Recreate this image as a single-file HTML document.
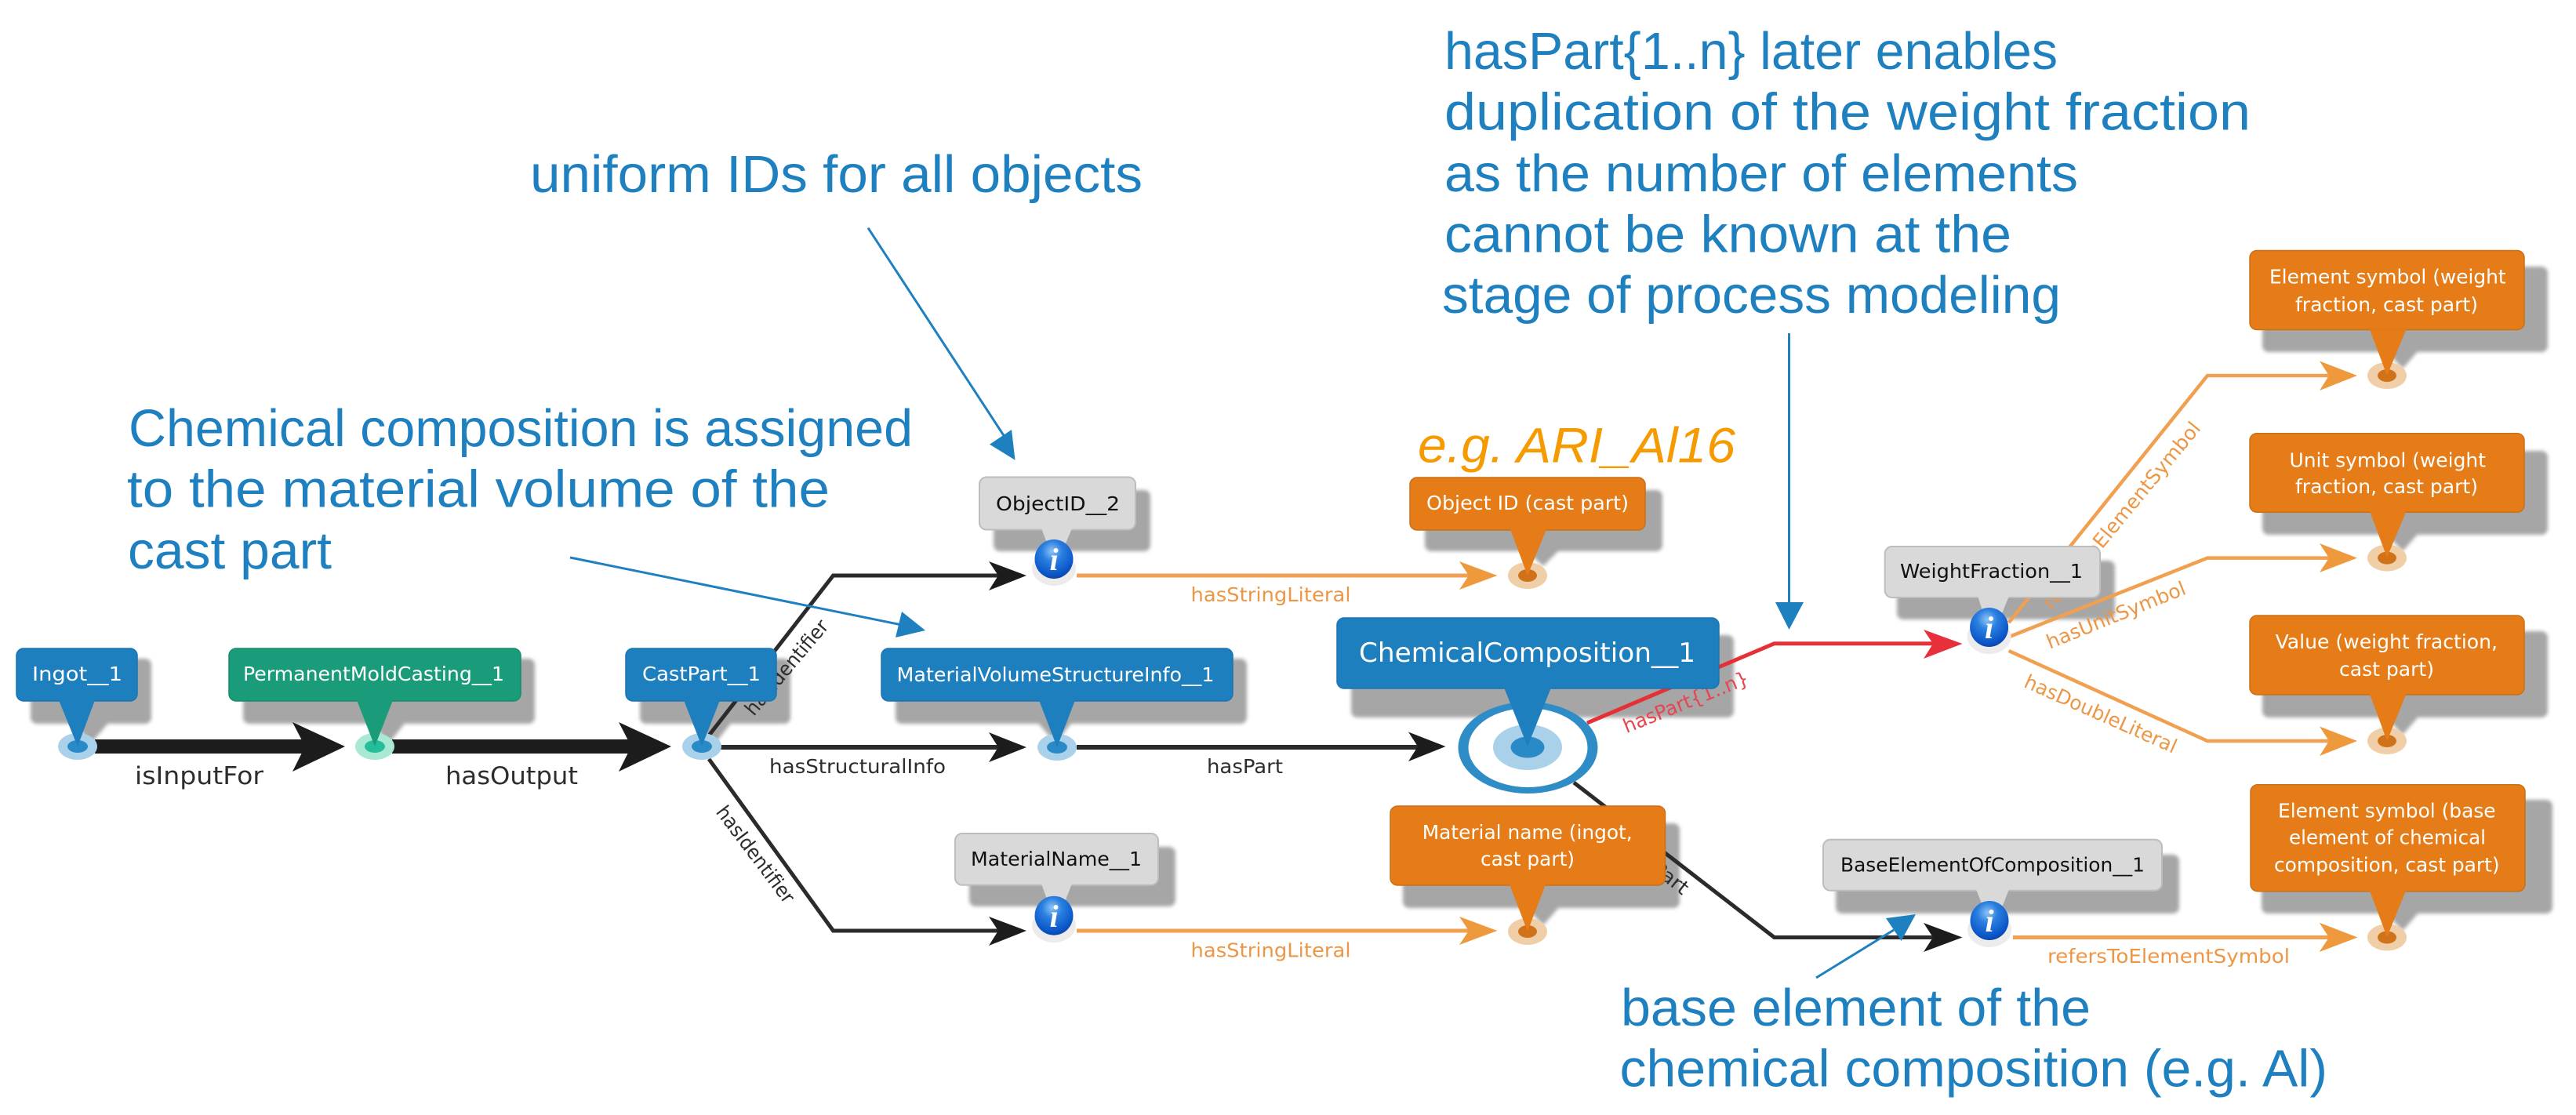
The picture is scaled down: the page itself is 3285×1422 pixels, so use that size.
<!DOCTYPE html>
<html>
<head>
<meta charset="utf-8">
<style>
html,body{margin:0;padding:0;background:#fff;width:3285px;height:1422px;overflow:hidden}
svg{display:block}
.big{font-family:"Liberation Sans",sans-serif;font-size:67px;fill:#1f80c0}
.s{font-family:"DejaVu Sans",sans-serif;font-size:25px}
.w{fill:#fff}
.k{fill:#111}
.d{fill:#2d2d2d}
.o{fill:#ec9746}
.r{fill:#e64650}
</style>
</head>
<body>
<svg width="3285" height="1422" viewBox="0 0 3285 1422" xmlns="http://www.w3.org/2000/svg">
<defs>
<filter id="b" x="-5%" y="-5%" width="110%" height="110%"><feGaussianBlur stdDeviation="2.5"/></filter>
<radialGradient id="info" cx="45%" cy="30%" r="75%">
<stop offset="0" stop-color="#8fc4f5"/><stop offset=".35" stop-color="#2a7fe0"/><stop offset=".8" stop-color="#0b55c8"/><stop offset="1" stop-color="#0a3f9c"/>
</radialGradient>
</defs>

<!-- shadows -->
<g fill="#a6a6a6" filter="url(#b)">
<rect x="39" y="840" width="154" height="83" rx="8"/><polygon points="93,920 140,920 116,948"/>
<rect x="310" y="840" width="372" height="83" rx="8"/><polygon points="472,920 518,920 496,948"/>
<rect x="816" y="840" width="192" height="83" rx="8"/><polygon points="888,920 934,920 912,948"/>
<rect x="1267" y="625" width="200" height="78" rx="8"/>
<rect x="1142" y="840" width="448" height="83" rx="8"/><polygon points="1322,920 1368,920 1346,948"/>
<rect x="1236" y="1080" width="263" height="76" rx="8"/>
<rect x="1817" y="625" width="303" height="78" rx="8"/><polygon points="1944,700 1990,700 1968,722"/>
<rect x="1723" y="810" width="488" height="105" rx="8"/>
<rect x="1789" y="1050" width="353" height="108" rx="8"/><polygon points="1944,1155 1990,1155 1968,1180"/>
<rect x="2419" y="715" width="278" height="75" rx="8"/>
<rect x="2341" y="1090" width="438" height="75" rx="8"/>
<rect x="2885" y="340" width="364" height="109" rx="8"/><polygon points="3040,445 3086,445 3064,470"/>
<rect x="2885" y="575" width="364" height="107" rx="8"/><polygon points="3040,678 3086,678 3064,703"/>
<rect x="2885" y="805" width="364" height="110" rx="8"/><polygon points="3040,912 3086,912 3064,937"/>
<rect x="2884" y="1020" width="371" height="145" rx="8"/><polygon points="3040,1162 3086,1162 3064,1187"/>
</g>

<!-- thick arrows -->
<g fill="#1c1c1c">
<rect x="121" y="943" width="270" height="18"/>
<polygon points="440,952 373,921 389,952 373,984"/>
<rect x="500" y="943" width="307" height="18"/>
<polygon points="856,952 789,921 805,952 789,984"/>
</g>

<!-- black connectors -->
<g fill="none" stroke="#2b2b2b">
<polyline points="904,938 1062.5,734 1275,734" stroke-width="5"/>
<line x1="919" y1="953" x2="1275" y2="953" stroke-width="6"/>
<polyline points="904,968 1062.5,1187 1275,1187" stroke-width="5"/>
<line x1="1373" y1="953" x2="1808" y2="953" stroke-width="6"/>
<polyline points="2007,998 2262.6,1195.5 2467,1195.5" stroke-width="5"/>
</g>
<g fill="#1c1c1c">
<polygon points="1309,734 1261,716 1273,734 1261,753"/>
<polygon points="1309,953 1261,934 1273,953 1261,972"/>
<polygon points="1309,1187 1261,1169 1273,1187 1261,1206"/>
<polygon points="1843.5,952 1796,933.5 1808,952 1796,971"/>
<polygon points="2502.5,1195.5 2453,1177 2465,1195.5 2453,1214"/>
</g>

<!-- red connector -->
<polyline points="2024,922 2262.6,820.7 2465,820.7" fill="none" stroke="#e63037" stroke-width="5"/>
<polygon points="2502.5,821 2453,803 2465,821 2453,840" fill="#e8303a"/>

<!-- orange connectors -->
<g fill="none" stroke="#f0a050">
<line x1="1373" y1="734" x2="1875" y2="734" stroke-width="5"/>
<line x1="1373" y1="1187" x2="1875" y2="1187" stroke-width="5"/>
<polyline points="2561.7,794 2815,479 2972,479" stroke-width="4.5"/>
<polyline points="2561,812.6 2815,711.6 2972,711.6" stroke-width="4.5"/>
<polyline points="2561.7,830 2815,945 2972,945" stroke-width="4.5"/>
<line x1="2567" y1="1195.5" x2="2970" y2="1195.5" stroke-width="5"/>
</g>
<g fill="#ee9a3c">
<polygon points="1909.5,734 1861,716 1873,734 1861,752"/>
<polygon points="1909.5,1187 1861,1169 1873,1187 1861,1205"/>
<polygon points="3006,479 2958,460.5 2970,479 2958,498"/>
<polygon points="3006,711.6 2958,693 2970,711.6 2958,730"/>
<polygon points="3006,945 2958,926.5 2970,945 2958,964"/>
<polygon points="3006.6,1195.5 2957.7,1176.7 2970,1195.5 2957.7,1214"/>
</g>

<!-- edge labels -->
<text class="s d" x="172" y="1000" style="font-size:31px" textLength="164" lengthAdjust="spacingAndGlyphs">isInputFor</text>
<text class="s d" x="568" y="1000" style="font-size:31px" textLength="169" lengthAdjust="spacingAndGlyphs">hasOutput</text>
<text class="s d" x="981" y="986" textLength="225" lengthAdjust="spacingAndGlyphs">hasStructuralInfo</text>
<text class="s d" x="1539" y="986" textLength="97" lengthAdjust="spacingAndGlyphs">hasPart</text>
<text class="s o" x="1518.5" y="767" textLength="204" lengthAdjust="spacingAndGlyphs">hasStringLiteral</text>
<text class="s o" x="1518.5" y="1220.5" textLength="204" lengthAdjust="spacingAndGlyphs">hasStringLiteral</text>
<text class="s o" x="2611" y="1228" textLength="309" lengthAdjust="spacingAndGlyphs">refersToElementSymbol</text>
<text class="s d" transform="translate(1003.5,851.5) rotate(-50)" text-anchor="middle" y="8" textLength="150" lengthAdjust="spacingAndGlyphs">hasIdentifier</text>
<text class="s d" transform="translate(963,1090) rotate(53)" text-anchor="middle" y="8" textLength="148" lengthAdjust="spacingAndGlyphs">hasIdentifier</text>
<text class="s r" transform="translate(2150,896) rotate(-22)" text-anchor="middle" y="8" textLength="170" lengthAdjust="spacingAndGlyphs">hasPart{1..n}</text>
<text class="s d" transform="translate(2112,1106) rotate(38)" text-anchor="middle" y="8" textLength="97" lengthAdjust="spacingAndGlyphs">hasPart</text>
<text class="s o" transform="translate(2706,657.5) rotate(-50.5)" text-anchor="middle" y="8" textLength="300" lengthAdjust="spacingAndGlyphs">refersToElementSymbol</text>
<text class="s o" transform="translate(2698.6,785) rotate(-22)" text-anchor="middle" y="8" textLength="189" lengthAdjust="spacingAndGlyphs">hasUnitSymbol</text>
<text class="s o" transform="translate(2678.7,911) rotate(24)" text-anchor="middle" y="8" textLength="210" lengthAdjust="spacingAndGlyphs">hasDoubleLiteral</text>

<!-- nodes -->
<g>
<ellipse cx="99" cy="952" rx="25" ry="17" fill="#a9d1ea"/><ellipse cx="99" cy="952" rx="13" ry="8" fill="#2a8ac8"/>
<ellipse cx="478" cy="952" rx="25" ry="17" fill="#a8e8d4"/><ellipse cx="478" cy="952" rx="13" ry="8" fill="#24bf99"/>
<ellipse cx="895" cy="952" rx="25" ry="17" fill="#a9d1ea"/><ellipse cx="895" cy="952" rx="13" ry="8" fill="#2a8ac8"/>
<ellipse cx="1348" cy="953" rx="25" ry="17" fill="#a9d1ea"/><ellipse cx="1348" cy="953" rx="13" ry="8" fill="#2a8ac8"/>
<ellipse cx="1948" cy="734" rx="25" ry="17" fill="#f0cfa8"/><ellipse cx="1948" cy="734" rx="12" ry="8" fill="#d0721a"/>
<ellipse cx="1948" cy="1188" rx="25" ry="17" fill="#f0cfa8"/><ellipse cx="1948" cy="1188" rx="12" ry="8" fill="#d0721a"/>
<ellipse cx="3044" cy="479" rx="25" ry="17" fill="#f0cfa8"/><ellipse cx="3044" cy="479" rx="12" ry="8" fill="#d0721a"/>
<ellipse cx="3044" cy="711.6" rx="25" ry="17" fill="#f0cfa8"/><ellipse cx="3044" cy="711.6" rx="12" ry="8" fill="#d0721a"/>
<ellipse cx="3044" cy="945" rx="25" ry="17" fill="#f0cfa8"/><ellipse cx="3044" cy="945" rx="12" ry="8" fill="#d0721a"/>
<ellipse cx="3044" cy="1195.5" rx="25" ry="17" fill="#f0cfa8"/><ellipse cx="3044" cy="1195.5" rx="12" ry="8" fill="#d0721a"/>
<!-- big node -->
<ellipse cx="1948.5" cy="953.5" rx="89" ry="58.5" fill="#2e8cc6"/>
<ellipse cx="1948.5" cy="953.5" rx="76" ry="50.5" fill="#fff"/>
<ellipse cx="1948" cy="953" rx="44" ry="29" fill="#a9d1ea"/>
<ellipse cx="1948" cy="953" rx="21.5" ry="13.5" fill="#2a8ac8"/>
</g>

<!-- callouts -->
<g fill="#1e7fbf" stroke="#1b74b0" stroke-width="1.5">
<rect x="21" y="827" width="154" height="67" rx="9"/>
<rect x="798" y="827" width="192" height="67" rx="9"/>
<rect x="1124" y="827" width="448" height="67" rx="9"/>
<rect x="1705" y="788" width="487" height="90" rx="9"/>
</g>
<g fill="#1e7fbf">
<polygon points="75,893 121,893 99,952"/>
<polygon points="872,893 918,893 895,952"/>
<polygon points="1325,893 1371,893 1348,953"/>
<polygon points="1918,877 1978,877 1948,952"/>
</g>
<rect x="292" y="827" width="372" height="67" rx="9" fill="#1a9c7a" stroke="#178a6c" stroke-width="1.5"/>
<polygon points="455,893 501,893 478,952" fill="#1a9c7a"/>

<g fill="#e57c17" stroke="#c8701a" stroke-width="1.5">
<rect x="1798" y="609" width="300" height="67" rx="9"/>
<rect x="1773" y="1028" width="350.5" height="101" rx="9"/>
<rect x="2869" y="319.5" width="350" height="101" rx="9"/>
<rect x="2869" y="552.7" width="350" height="100.5" rx="9"/>
<rect x="2869" y="785" width="350" height="101" rx="9"/>
<rect x="2870" y="1000.7" width="350" height="136" rx="9"/>
</g>
<g fill="#e57c17">
<polygon points="1926,675 1972,675 1948,734"/>
<polygon points="1925,1128 1971,1128 1948,1188"/>
<polygon points="3022,420 3068.5,420 3044,479"/>
<polygon points="3022,652 3068.5,652 3044,711"/>
<polygon points="3022,885 3068.5,885 3044,945"/>
<polygon points="3022,1136 3068,1136 3044,1195"/>
</g>

<!-- gray callouts -->
<g fill="#d9d9d9" stroke="#bdbdbd" stroke-width="2">
<rect x="1249" y="608.5" width="199" height="67" rx="9"/>
<rect x="1218" y="1063" width="259" height="65.7" rx="9"/>
<rect x="2403.7" y="697" width="274.3" height="65" rx="9"/>
<rect x="2325" y="1070.7" width="432" height="65" rx="9"/>
</g>
<g fill="#d9d9d9">
<polygon points="1328,674 1367,674 1356,700 1338,700"/>
<polygon points="1328,1127 1367,1127 1356,1155 1338,1155"/>
<polygon points="2522,760 2562,760 2552,785 2530,785"/>
<polygon points="2520,1134 2562,1134 2552,1160 2530,1160"/>
</g>

<!-- info icons -->
<g>
<ellipse cx="1344" cy="725" rx="28" ry="22" fill="#ececec"/>
<ellipse cx="1344" cy="1180" rx="28" ry="22" fill="#ececec"/>
<ellipse cx="2536.6" cy="812" rx="28" ry="22" fill="#ececec"/>
<ellipse cx="2537" cy="1186" rx="28" ry="22" fill="#ececec"/>
<ellipse cx="1344" cy="713" rx="24.5" ry="25" fill="url(#info)"/>
<ellipse cx="1344" cy="1167.7" rx="24.5" ry="25" fill="url(#info)"/>
<ellipse cx="2536.6" cy="800" rx="24.5" ry="25" fill="url(#info)"/>
<ellipse cx="2537" cy="1174" rx="24.5" ry="25" fill="url(#info)"/>
</g>
<g font-family="Liberation Serif,serif" font-weight="700" font-style="italic" font-size="40" fill="#fff" text-anchor="middle">
<text x="1344" y="727">i</text>
<text x="1344" y="1182">i</text>
<text x="2536.6" y="814">i</text>
<text x="2537" y="1188">i</text>
</g>

<!-- callout text -->
<text class="s w" x="41" y="868" textLength="115" lengthAdjust="spacingAndGlyphs">Ingot__1</text>
<text class="s w" x="310" y="868" textLength="333" lengthAdjust="spacingAndGlyphs">PermanentMoldCasting__1</text>
<text class="s w" x="819" y="868" textLength="151" lengthAdjust="spacingAndGlyphs">CastPart__1</text>
<text class="s w" x="1143.5" y="869" textLength="405" lengthAdjust="spacingAndGlyphs">MaterialVolumeStructureInfo__1</text>
<text class="s w" x="1733" y="844" style="font-size:34px" textLength="429" lengthAdjust="spacingAndGlyphs">ChemicalComposition__1</text>
<text class="s k" x="1270" y="651" textLength="158" lengthAdjust="spacingAndGlyphs">ObjectID__2</text>
<text class="s k" x="1238" y="1104" textLength="218" lengthAdjust="spacingAndGlyphs">MaterialName__1</text>
<text class="s k" x="2423" y="737" textLength="233" lengthAdjust="spacingAndGlyphs">WeightFraction__1</text>
<text class="s k" x="2347" y="1111.7" textLength="388" lengthAdjust="spacingAndGlyphs">BaseElementOfComposition__1</text>
<text class="s w" x="1819" y="650" textLength="258" lengthAdjust="spacingAndGlyphs">Object ID (cast part)</text>
<text class="s w" x="1813.7" y="1070" textLength="268" lengthAdjust="spacingAndGlyphs">Material name (ingot,</text>
<text class="s w" x="1888" y="1104" textLength="120" lengthAdjust="spacingAndGlyphs">cast part)</text>
<text class="s w" x="2894" y="361.7" textLength="301.6" lengthAdjust="spacingAndGlyphs">Element symbol (weight</text>
<text class="s w" x="2927" y="397" textLength="233" lengthAdjust="spacingAndGlyphs">fraction, cast part)</text>
<text class="s w" x="2919.5" y="595.4" textLength="250.5" lengthAdjust="spacingAndGlyphs">Unit symbol (weight</text>
<text class="s w" x="2927" y="629" textLength="233" lengthAdjust="spacingAndGlyphs">fraction, cast part)</text>
<text class="s w" x="2901.6" y="827" textLength="283.4" lengthAdjust="spacingAndGlyphs">Value (weight fraction,</text>
<text class="s w" x="2983" y="862" textLength="121" lengthAdjust="spacingAndGlyphs">cast part)</text>
<text class="s w" x="2905" y="1042.7" textLength="277.6" lengthAdjust="spacingAndGlyphs">Element symbol (base</text>
<text class="s w" x="2919" y="1076.7" textLength="251" lengthAdjust="spacingAndGlyphs">element of chemical</text>
<text class="s w" x="2900" y="1111.7" textLength="287.6" lengthAdjust="spacingAndGlyphs">composition, cast part)</text>

<!-- annotation arrows -->
<g stroke="#1f80c0" stroke-width="3" fill="none">
<line x1="1107" y1="290.7" x2="1283" y2="560"/>
<line x1="727" y1="711" x2="1150" y2="797"/>
<line x1="2281.5" y1="425" x2="2281.5" y2="770"/>
<line x1="2316" y1="1247" x2="2415" y2="1186"/>
</g>
<g fill="#1f80c0">
<polygon points="1294.5,586.7 1290,548 1262,566.7"/>
<polygon points="1180,804 1150,780 1142,813"/>
<polygon points="2281.5,803 2264,768 2300,768"/>
<polygon points="2443,1166 2405,1171 2424.5,1200"/>
</g>

<!-- annotation text -->
<text class="big" x="676" y="245" textLength="781" lengthAdjust="spacingAndGlyphs">uniform IDs for all objects</text>
<text class="big" x="164" y="569" textLength="1000" lengthAdjust="spacingAndGlyphs">Chemical composition is assigned</text>
<text class="big" x="162" y="646.7" textLength="896" lengthAdjust="spacingAndGlyphs">to the material volume of the</text>
<text class="big" x="163" y="725" textLength="260" lengthAdjust="spacingAndGlyphs">cast part</text>
<text class="big" x="1842" y="88" textLength="782" lengthAdjust="spacingAndGlyphs">hasPart{1..n} later enables</text>
<text class="big" x="1842" y="165.7" textLength="1028" lengthAdjust="spacingAndGlyphs">duplication of the weight fraction</text>
<text class="big" x="1842" y="244" textLength="808" lengthAdjust="spacingAndGlyphs">as the number of elements</text>
<text class="big" x="1842" y="321.7" textLength="723" lengthAdjust="spacingAndGlyphs">cannot be known at the</text>
<text class="big" x="1839" y="399" textLength="789" lengthAdjust="spacingAndGlyphs">stage of process modeling</text>
<text class="big" x="2067" y="1308" textLength="599" lengthAdjust="spacingAndGlyphs">base element of the</text>
<text class="big" x="2065.5" y="1385.7" textLength="902.5" lengthAdjust="spacingAndGlyphs">chemical composition (e.g. Al)</text>
<text x="1808" y="589.3" font-family="Liberation Sans,sans-serif" font-style="italic" font-size="63" fill="#f59a00" textLength="405" lengthAdjust="spacingAndGlyphs">e.g. ARI_Al16</text>
</svg>
</body>
</html>
